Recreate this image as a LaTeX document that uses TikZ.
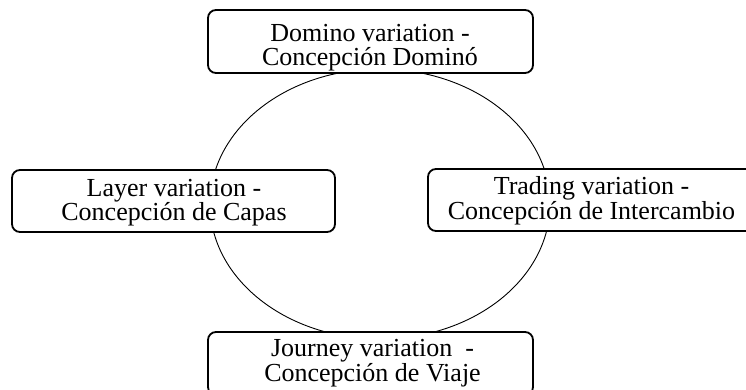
\documentclass[tikz,border=0pt]{standalone}
\usepackage{fontspec}
\setmainfont{Liberation Serif}
\usepackage{tikz}
\usetikzlibrary{shapes.geometric}

\begin{document}
\begin{tikzpicture}[x=1pt,y=-1pt,
  frame/.style={draw=black,fill=white,line width=1.8pt,rounded corners=8pt,inner sep=0pt,minimum height=63pt},
  vartext/.style={anchor=base,align=center,inner sep=0pt,font=\fontsize{26}{23.4}\selectfont},
  ring/.style={draw=black,line width=0.9pt,ellipse,inner sep=0pt}]
\useasboundingbox (0,0) rectangle (746,389);
\clip (0,0) rectangle (746,389);
\node[ring,minimum width=340pt,minimum height=270pt] (cyc) at (380,204) {};
\node[frame,minimum width=325pt] (domframe) at (370.5,41.5) {};
\node[frame,minimum width=323pt,minimum height=62pt] (layframe) at (173.5,201) {};
\node[frame,minimum width=327pt,minimum height=62pt] (tradframe) at (591.5,200) {};
\node[frame,minimum width=325pt] (jourframe) at (370.5,363.5) {};
\node[vartext] (dom) at (370,65.2) {Domino variation -\\Concepción Dominó};
\node[vartext] (lay) at (174,220.7) {Layer variation -\\Concepción de Capas};
\node[vartext] (trad) at (591.5,219) {Trading variation -\\Concepción de Intercambio};
\node[vartext] (jour) at (372.5,381) {Journey variation\ \ -\\Concepción de Viaje};
\end{tikzpicture}
\end{document}
